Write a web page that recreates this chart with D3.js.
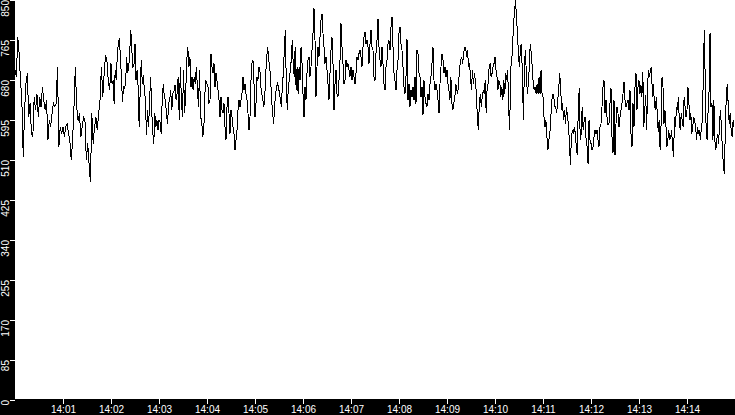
<!DOCTYPE html>
<html>
<head>
<meta charset="utf-8">
<script src="https://cdn.jsdelivr.net/npm/d3@7"></script>
<style>
  body { margin: 0; background: #fff; }
  svg { display: block; }
</style>
</head>
<body>
<div id="chart"></div>
<script>
// readings for each minute, spread evenly over that minute
const readings1400 = [700,685,770,735,678,636,515,615,671,693,600,629,565,558,643,615,650,600,643,622,664,636,615,636,551,593,579,608,629,622,629,707,537,579,565];
const readings1401 = [579,558,579,586,565,551,508,551,622,707,622,593,608,558,579,600,593,508,544,501,462,608,544,579,600,572,608,636,707,643,693,732,721,678,657];
const readings1402 = [714,671,678,629,700,678,728,756,767,728,686,632,664,661,671,728,693,707,742,785,742,707,710,756,678,700,664,579,657,721,671,689,657,636,562,615,579,636,686,615,569,544,608,579,593,572];
const readings1403 = [593,590,565,636,671,643,636,608,586,629,636,657,615,650,654,668,636,650,686,593,707,636,600,700,608,650,721,749,707,728,664,686,657,686,671,707,664,622,700,600,593,558,572,650,678];
const readings1404 = [671,664,629,636,735,707,693,714,664,693,678,657,636,600,643,615,608,629,579,551,622,643,608,565,615,600,579,565,530,551,572,615,636,622,636,650,686,657,671,650,636,608,572,600,678,714,721,671];
const readings1405 = [600,629,686,678,707,700,664,650,636,622,643,693,728,749,721,707,678,636,608,586,622,650,664,671,664,650,636,622,671,693,749,785,664,615,664,678,700,721,763,714,686,749,657,707,650,707,678,749,714];
const readings1406 = [650,600,664,636,693,721,728,686,707,742,778,831,763,643,707,749,728,770,806,820,778,749,714,728,700,671,636,693,742,770,714,615,671,700,650,643,678,721,799,749,714,671,678,721,707,714,700,686];
const readings1407 = [707,678,700,686,671,693,728,721,735,742,728,707,749,770,781,756,763,749,714,756,785,749,742,686,678,735,763,809,749,721,707,749,714,671,657,707,721,756,763,742,792,813,749,693,678,657,700,721];
const readings1408 = [778,792,756,742,707,664,650,686,767,636,671,622,657,643,664,636,686,629,742,735,693,686,643,664,604,678,643,629,622,650,636,671,686,714,749,678,657,671,657,636,608,671,707,735,721,693,707,686];
const readings1409 = [700,671,657,636,686,629,615,629,643,671,657,650,678,707,721,728,714,735,749,749,728,742,707,714,686,657,700,671,693,678,650,600,572,629,650,622,643,657,650,678,608,664,671,707,714,686,693,707,714];
const readings1410 = [728,700,686,657,678,671,643,664,636,678,650,693,678,700,615,572,707,714,756,799,827,848,806,778,728,707,749,756,686,593,707,742,693,650,671,707,756,735,707,671,657,664,650,671,650,686,650,700,650];
const readings1411 = [643,600,579,593,558,530,551,565,600,636,650,643,622,622,608,636,657,693,664,615,629,593,615,586,622,600,586,544,498,558,572,565,579,565,537,519,615,661,551,565,622,572,593,600,551,537,501,593,551];
const readings1412 = [544,530,537,558,572,565,572,551,537,579,586,622,664,678,608,636,600,583,586,629,661,558,523,636,519,586,622,608,579,600,615,629,650,675,636,622,629,636,615,657,565,537,629,579,664,693,615,664];
const readings1413 = [678,650,668,643,696,579,615,646,572,671,700,686,703,707,643,671,629,615,643,608,569,593,530,586,686,664,586,615,586,537,551,572,551,558,572,537,515,600,579,622,615,643,593,572,608,593,579,643,622,600];
const readings1414 = [615,664,629,593,608,565,579,600,593,579,551,579,565,572,551,579,593,686,785,678,565,551,615,657,778,622,629,551,636,551,530,551,565,544,593,615,565,530,494,480,586,650,671,622,586,608,572,558,593,579];

const minuteLabels = ["14:00","14:01","14:02","14:03","14:04","14:05","14:06","14:07","14:08","14:09","14:10","14:11","14:12","14:13","14:14"];
const minuteBlocks = [readings1400, readings1401, readings1402, readings1403, readings1404, readings1405, readings1406, readings1407, readings1408, readings1409, readings1410, readings1411, readings1412, readings1413, readings1414];
const timeTicks = ["14:01","14:02","14:03","14:04","14:05","14:06","14:07","14:08","14:09","14:10","14:11","14:12","14:13","14:14"];
const yTicks = [0, 85, 170, 255, 340, 425, 510, 595, 680, 765, 850];

const W = 735, H = 415;
const left = 15, bottom = 399;

const parseHM = s => {
    const [h, m] = s.split(":").map(Number);
    return new Date(2000, 0, 1, h, m, 0);
};

// build the series: each minute's readings spread evenly over its 60 seconds
const data = [];
minuteBlocks.forEach((vals, i) => {
    const start = parseHM(minuteLabels[i]).getTime();
    vals.forEach((v, j) => {
        data.push({ t: new Date(start + j * 60000 / vals.length), v: v });
    });
});

const svg = d3.select("#chart")
    .append("svg")
    .attr("width", W)
    .attr("height", H);

const x = d3.scaleTime()
    .domain([parseHM("14:00"), parseHM("14:15")])
    .range([left, W]);

const y = d3.scaleLinear()
    .domain([0, 850])
    .range([bottom + 0.5, -0.5]);

// the line
svg.append("path")
    .datum(data)
    .attr("fill", "none")
    .attr("stroke", "#000")
    .attr("stroke-width", 1)
    .style("shape-rendering", "crispEdges")
    .attr("d", d3.line()
        .x(d => x(d.t))
        .y(d => y(d.v)));

// black bands behind the axes
svg.append("rect")
    .attr("x", 0).attr("y", 0)
    .attr("width", left).attr("height", H)
    .attr("fill", "#000");
svg.append("rect")
    .attr("x", 0).attr("y", bottom)
    .attr("width", W).attr("height", H - bottom)
    .attr("fill", "#000");

// Y axis
const gy = svg.append("g")
    .attr("transform", `translate(${left},0)`)
    .call(d3.axisLeft(y).tickValues(yTicks).tickSize(5).tickFormat(d3.format("d")));
gy.select(".domain").remove();
gy.selectAll("line").attr("stroke", "#fff").style("shape-rendering", "crispEdges");
gy.selectAll("text")
    .attr("fill", "#fff")
    .attr("transform", "rotate(-90)")
    .attr("x", 0)
    .attr("y", -6)
    .attr("dy", null)
    .attr("text-anchor", "end")
    .style("font", "10px 'Liberation Sans', Arial, sans-serif");

// X axis
const gx = svg.append("g")
    .attr("transform", `translate(0,${bottom})`)
    .call(d3.axisBottom(x)
        .tickValues(timeTicks.map(parseHM))
        .tickSize(5)
        .tickPadding(2)
        .tickFormat(d3.timeFormat("%H:%M")));
gx.select(".domain").remove();
gx.selectAll("line").attr("stroke", "#fff").style("shape-rendering", "crispEdges");
gx.selectAll("text")
    .attr("fill", "#fff")
    .style("font", "10px 'Liberation Sans', Arial, sans-serif");
</script>
</body>
</html>
